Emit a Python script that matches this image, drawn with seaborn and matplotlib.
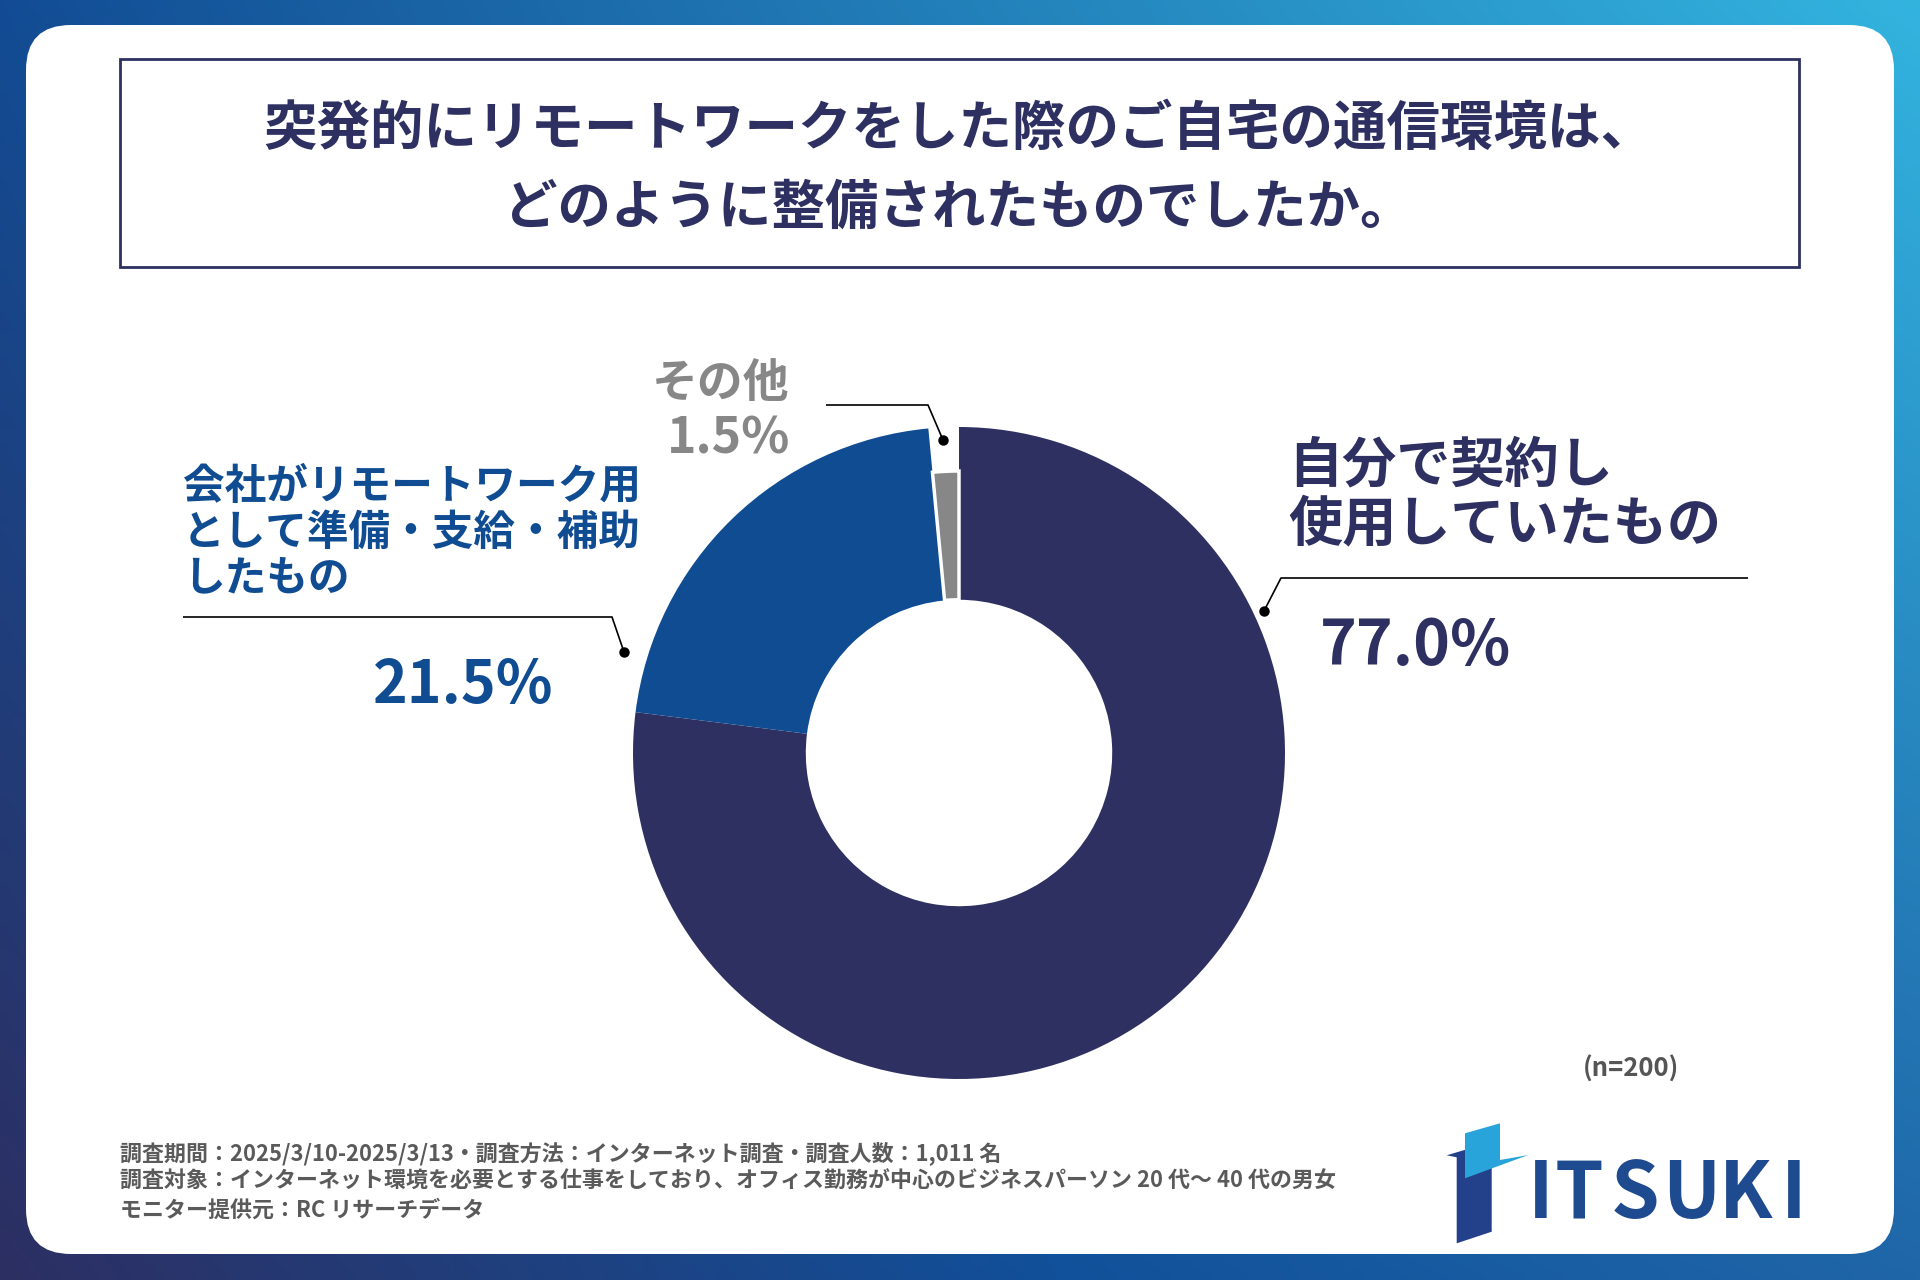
import numpy as np
import matplotlib
matplotlib.use("Agg")
import matplotlib.pyplot as plt
from matplotlib.patches import FancyBboxPatch, Rectangle, Polygon
from matplotlib.colors import to_rgb
import seaborn as sns

# ---------------- data ----------------
title_lines = ["突発的にリモートワークをした際のご自宅の通信環境は、",
               "どのように整備されたものでしたか。"]
categories = ["自分で契約し\n使用していたもの",
              "会社がリモートワーク用\nとして準備・支給・補助\nしたもの",
              "その他"]
values = [77.0, 21.5, 1.5]
value_labels = ["77.0%", "21.5%", "1.5%"]
slice_colors = ["#2e3061", "#0f4c92", "#878787"]
sample_note = "(n=200)"
notes = ["調査期間：2025/3/10-2025/3/13・調査方法：インターネット調査・調査人数：1,011 名",
         "調査対象：インターネット環境を必要とする仕事をしており、オフィス勤務が中心のビジネスパーソン 20 代〜 40 代の男女",
         "モニター提供元：RC リサーチデータ"]
brand = "ITSUKI"

# ---------------- style ----------------
sns.set_theme(style="white")
plt.rcParams['font.family'] = ['Noto Sans CJK JP', 'DejaVu Sans']

W, H = 1920, 1280
fig = plt.figure(figsize=(19.2, 12.8), dpi=100)

# background axes in pixel coordinates
bg = fig.add_axes([0, 0, 1, 1])
bg.axis('off')

# gradient background
gw, gh = 240, 160
xs = np.linspace(0, 1, gw)
tl, tr = np.array(to_rgb("#124c94")), np.array(to_rgb("#33b4df"))
bl, bm, br = np.array(to_rgb("#2d2f62")), np.array(to_rgb("#11509a")), np.array(to_rgb("#1f66a8"))
top = tl[None, :] * (1 - xs[:, None]) + tr[None, :] * xs[:, None]
bot = np.where(xs[:, None] < 0.55,
               bl[None, :] * (1 - xs[:, None] / 0.55) + bm[None, :] * (xs[:, None] / 0.55),
               bm[None, :] * (1 - (xs[:, None] - 0.55) / 0.45) + br[None, :] * ((xs[:, None] - 0.55) / 0.45))
ys = np.linspace(0, 1, gh)
img = top[None, :, :] * (1 - ys[:, None, None]) + bot[None, :, :] * ys[:, None, None]
bg.imshow(img, extent=[0, W, H, 0], aspect='auto', interpolation='bilinear', zorder=0)
bg.set_xlim(0, W)
bg.set_ylim(H, 0)

# white rounded panel
bg.add_patch(FancyBboxPatch((26, 25), 1868, 1229,
                            boxstyle="round,pad=0,rounding_size=45",
                            facecolor="white", edgecolor="none", zorder=1))
# title box
bg.add_patch(Rectangle((120, 59), 1679, 208, facecolor="white",
                       edgecolor="#2e3061", linewidth=2, zorder=2))

navy = "#2e3061"
blue = "#0f4c92"
gray = "#878787"

bg.text(959, 129, title_lines[0], ha='center', va='center', fontsize=38.5,
        fontweight='bold', color=navy, zorder=3)
bg.text(959, 208, title_lines[1], ha='center', va='center', fontsize=38.5,
        fontweight='bold', color=navy, zorder=3)

# category labels
for i, line in enumerate(categories[0].split("\n")):
    bg.text(1288, 466 + 59 * i, line, ha='left', va='center', fontsize=39,
            fontweight='bold', color=navy, zorder=3)
for i, line in enumerate(categories[1].split("\n")):
    bg.text(183, 487 + 45.5 * i, line, ha='left', va='center', fontsize=30,
            fontweight='bold', color=blue, zorder=3)
bg.text(790, 384, categories[2], ha='right', va='center', fontsize=33,
        fontweight='bold', color=gray, zorder=3)

# value labels
bg.text(1320, 665, value_labels[0], ha='left', va='baseline', fontsize=45,
        fontweight='bold', color=navy, zorder=3)
bg.text(373, 703, value_labels[1], ha='left', va='baseline', fontsize=42.5,
        fontweight='bold', color=blue, zorder=3)
bg.text(790, 453, value_labels[2], ha='right', va='baseline', fontsize=36,
        fontweight='bold', color=gray, zorder=3)

# sample size
bg.text(1631, 1069, sample_note, ha='center', va='center', fontsize=18.5,
        fontweight='bold', color="#555555", zorder=3)

# footnotes
for i, line in enumerate(notes):
    bg.text(120, 1153 + 28.5 * i, line, ha='left', va='center', fontsize=15.8,
            fontweight='bold', color="#5a5a5a", zorder=3)

# logo
bg.add_patch(Polygon([(1446.7, 1155.3), (1466.7, 1149.3), (1491.7, 1149.3),
                      (1491.7, 1231.7), (1456.7, 1243.3), (1456.7, 1157.3)],
                     closed=True, facecolor="#23418a", edgecolor="none", zorder=3))
bg.add_patch(Polygon([(1465, 1133.3), (1500, 1123.3), (1500, 1160),
                      (1528.3, 1155), (1465, 1178.3)],
                     closed=True, facecolor="#29a4da", edgecolor="none", zorder=4))
letter_x = [1528, 1555, 1611, 1662, 1719, 1781]
for ch, lx in zip(brand, letter_x):
    bg.text(lx, 1218, ch, ha='left', va='baseline', fontsize=56,
            fontweight='bold', color="#1e4a8f", zorder=3)

# ---------------- donut ----------------
cx, cy, R = 959, 753, 326
ax = fig.add_axes([(cx - R) / W, (H - cy - R) / H, 2 * R / W, 2 * R / H])
ax.set_facecolor('none')
wedges, _ = ax.pie(values, colors=slice_colors, startangle=90, counterclock=False,
                   radius=1.0,
                   wedgeprops=dict(width=0.53, edgecolor='none', linewidth=0))
inner = 0.47
small_r = 282 / R
wedges[2].set_radius(small_r)
wedges[2].set_width(small_r - inner)
wedges[2].set_edgecolor('white')
wedges[2].set_linewidth(2.5)
wedges[2].set_zorder(3)
ax.set_xlim(-1, 1)
ax.set_ylim(-1, 1)
ax.axis('off')


def p2d(px, py):
    return (px - cx) / R, (cy - py) / R


leaders = [
    [(1264, 611), (1281, 578), (1748, 578)],
    [(624, 652), (612, 617), (183, 617)],
    [(943, 440), (928, 405), (826, 405)],
]
for pts in leaders:
    d = [p2d(*p) for p in pts]
    ax.plot([q[0] for q in d], [q[1] for q in d], color='black', lw=1.2,
            clip_on=False, zorder=5, solid_capstyle='butt')
    ax.plot(d[0][0], d[0][1], 'o', color='black', ms=6.5, clip_on=False, zorder=6)

fig.savefig("out.png", dpi=100)
